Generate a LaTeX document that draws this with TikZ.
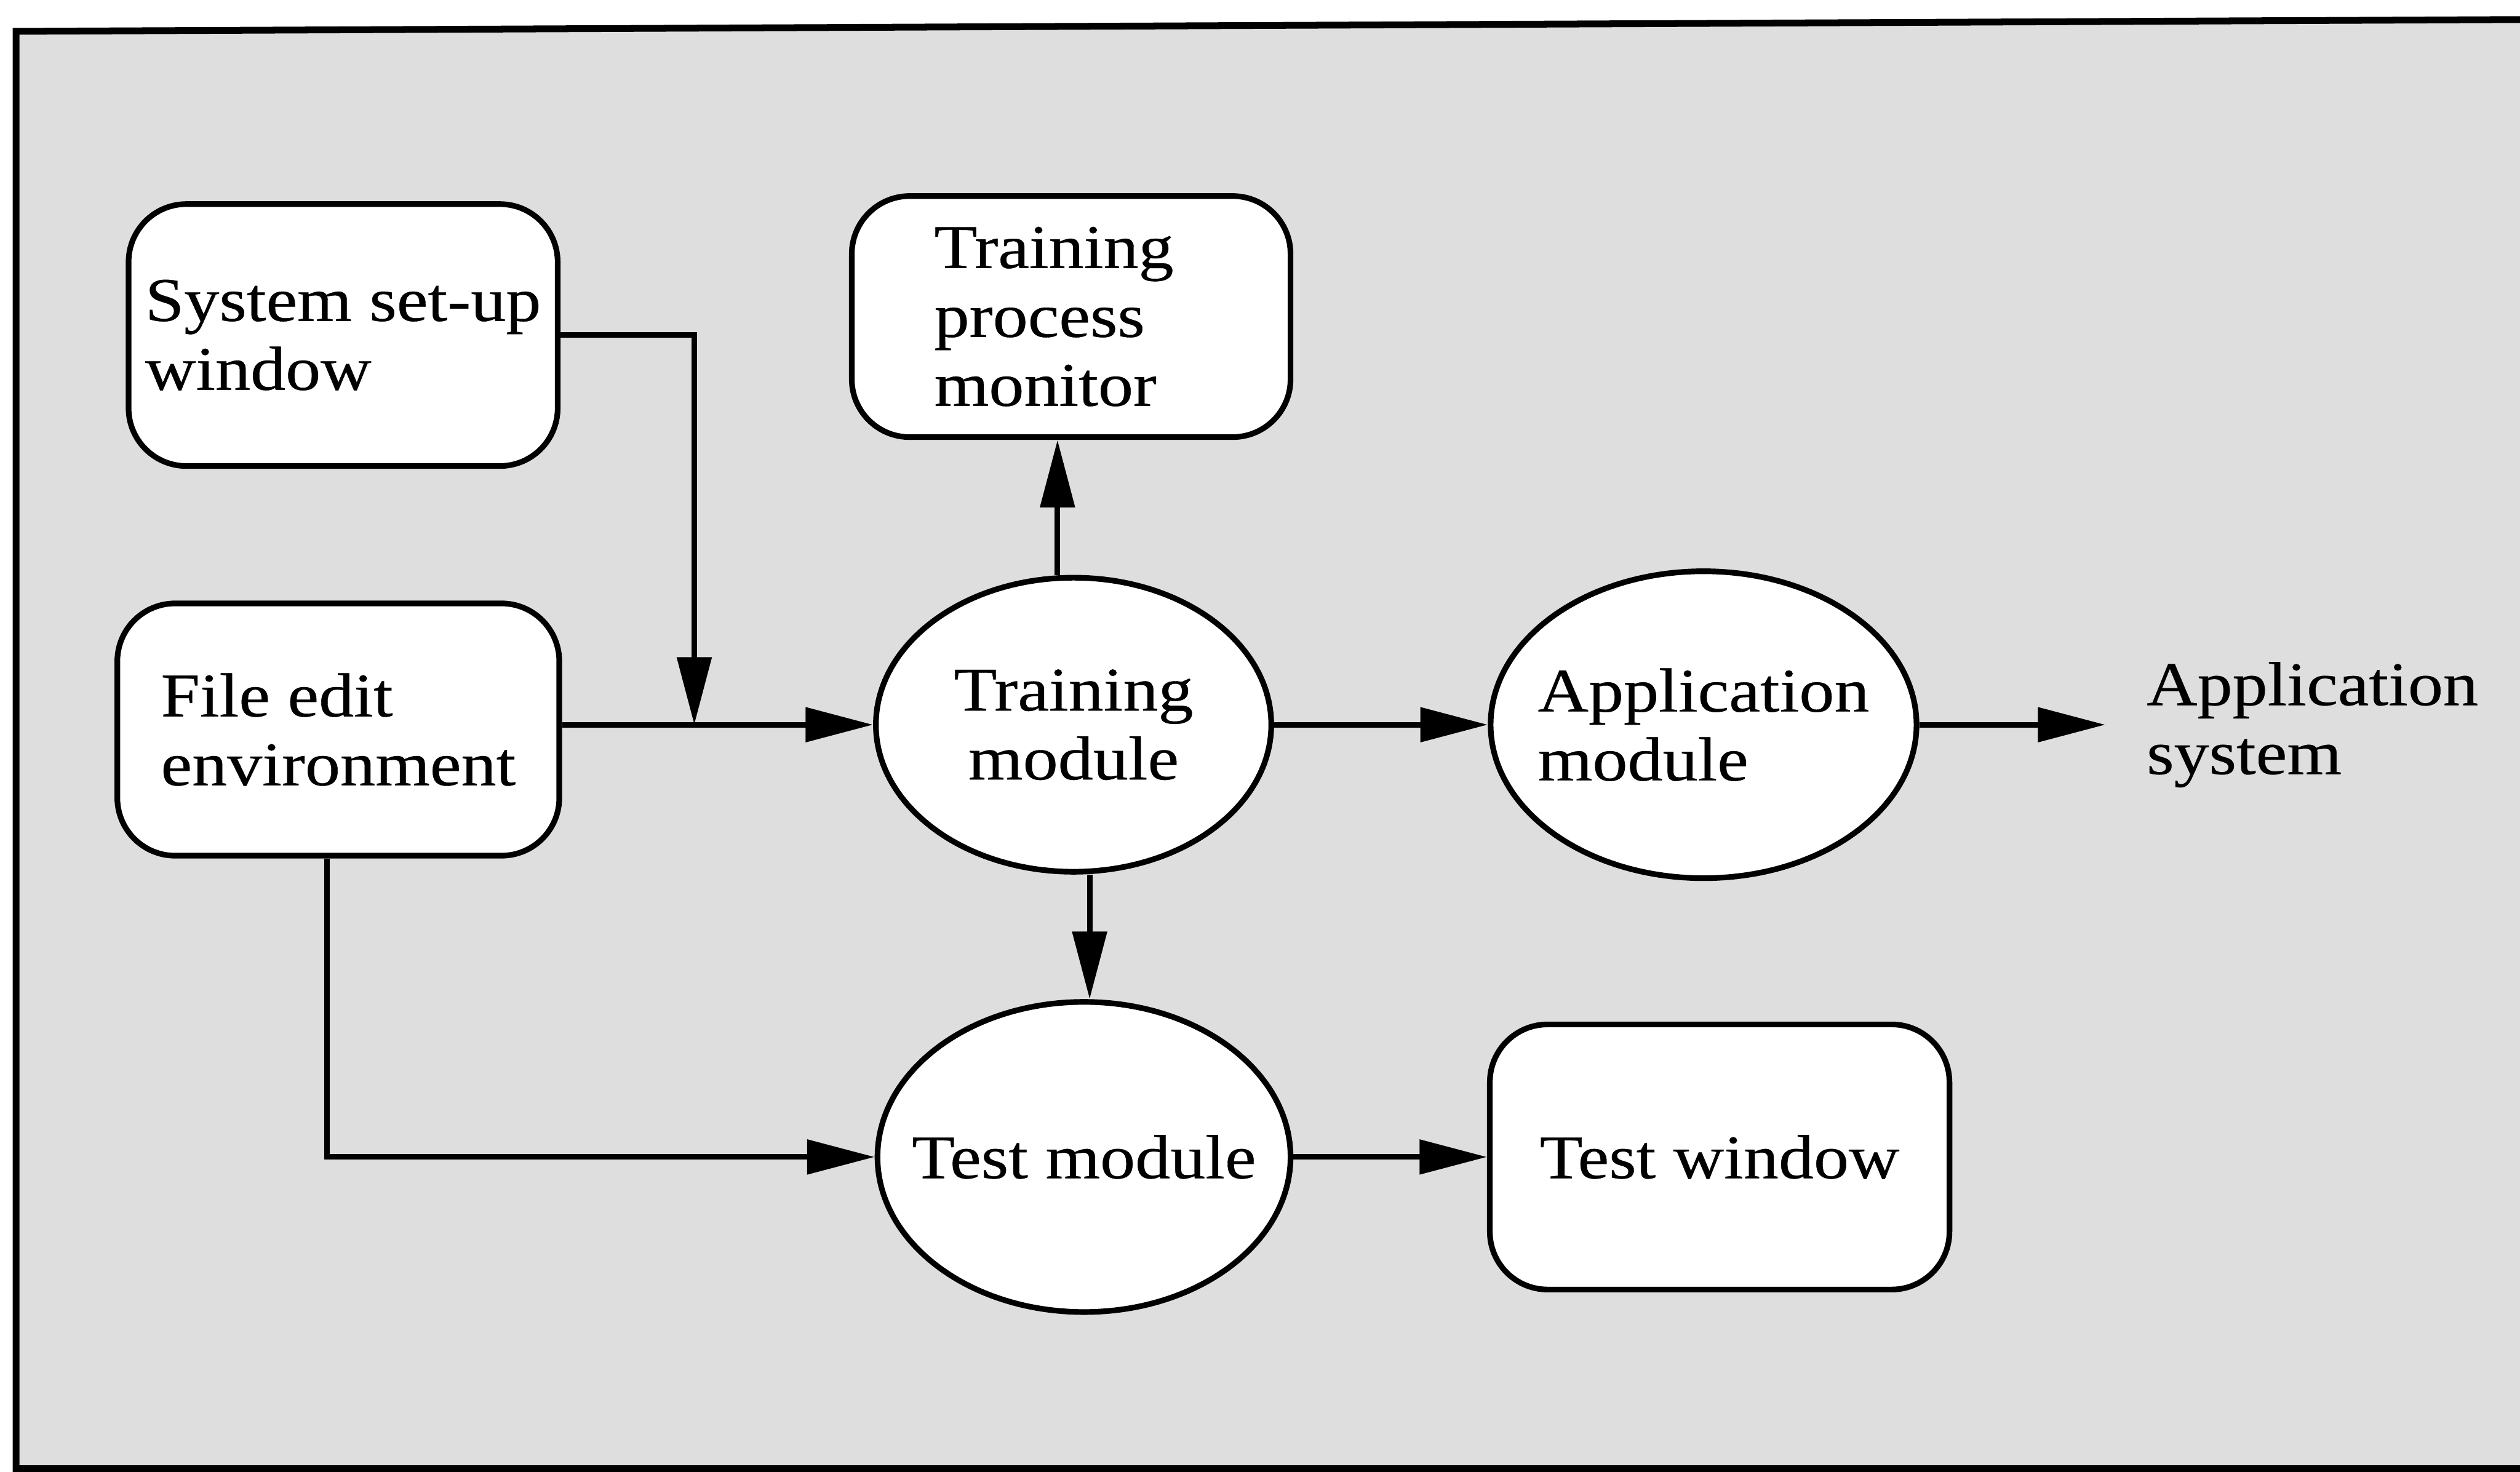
\documentclass[tikz,border=0pt]{standalone}
\usepackage{fontspec}
\setmainfont{Liberation Serif}[FakeStretch=1.13,FakeBold=0.4]
\usetikzlibrary{shapes.geometric,arrows.meta,calc}
\begin{document}
\begin{tikzpicture}[x=0.1mm,y=-0.1mm,
  every node/.style={font=\fontsize{11}{12.2}\selectfont},
  win/.style={draw, line width=1pt, fill=white, rounded corners=0.36cm, align=left, inner sep=0pt},
  module/.style={draw, ellipse, line width=1pt, fill=white, inner sep=0pt},
  flow/.style={line width=1pt, -{Triangle[length=0.42cm,width=0.21cm]}}]
\useasboundingbox (0,0) rectangle (1568,916);
\fill[white] (0,0) rectangle (1568,916);
% shaded panel with its frame
\begin{scope}
  \clip (0,0) rectangle (1568,916);
  \draw[line width=1.2pt, fill=black!13] (10,19.5) -- (1600,12) -- (1600,914) -- (10,914) -- cycle;
\end{scope}

% windows
\node[win, minimum width=2.67cm, minimum height=1.63cm] (setup) at (213.5,208.5) {System set-up\\window};
\node[win, minimum width=2.73cm, minimum height=1.50cm] (monitor) at (666.5,197)
  {\hspace*{-0.16cm}Training\\\hspace*{-0.16cm}process\\\hspace*{-0.16cm}monitor\hspace*{0.16cm}};
\node[win, minimum width=2.75cm, minimum height=1.57cm] (edit) at (210.5,454) {File edit\\environment};
\node[win, minimum width=2.86cm, minimum height=1.65cm] (twin) at (1070,720) {Test window};

% modules: ellipses sized to hug their labels
\node[module, minimum width=2.46cm, minimum height=1.83cm,
  label={[align=center]center:Training\\module}] (train) at (668,451) {};
\node[module, minimum width=2.65cm, minimum height=1.91cm,
  label={[align=left]center:Application\\module}] (apply) at (1060,451) {};
\node[module, minimum width=2.57cm, minimum height=1.93cm,
  label={center:Test module}] (test) at (674.5,720) {};
\node[align=left, inner xsep=0.25cm, inner ysep=0pt, anchor=west] (appsys) at (1310,451) {Application\\system};

% connectors
\coordinate (merge) at (432,451);
\draw[flow] (setup.east) -| (merge);
\draw[flow] (edit.east |- train.west) -- (train.west);
\coordinate (tn) at ($(train.north)+(-10,0)$);
\draw[flow] (tn) -- (tn |- monitor.south);
\coordinate (ts) at ($(train.south)+(10,0)$);
\draw[flow] (ts) -- (ts |- test.north);
\draw[flow] (train.east) -- (apply.west);
\draw[flow] (apply.east) -- (appsys.west);
\coordinate (es) at ($(edit.south)+(-7,0)$);
\draw[flow] (es) |- (test.west);
\draw[flow] (test.east) -- (twin.west);
\end{tikzpicture}
\end{document}
